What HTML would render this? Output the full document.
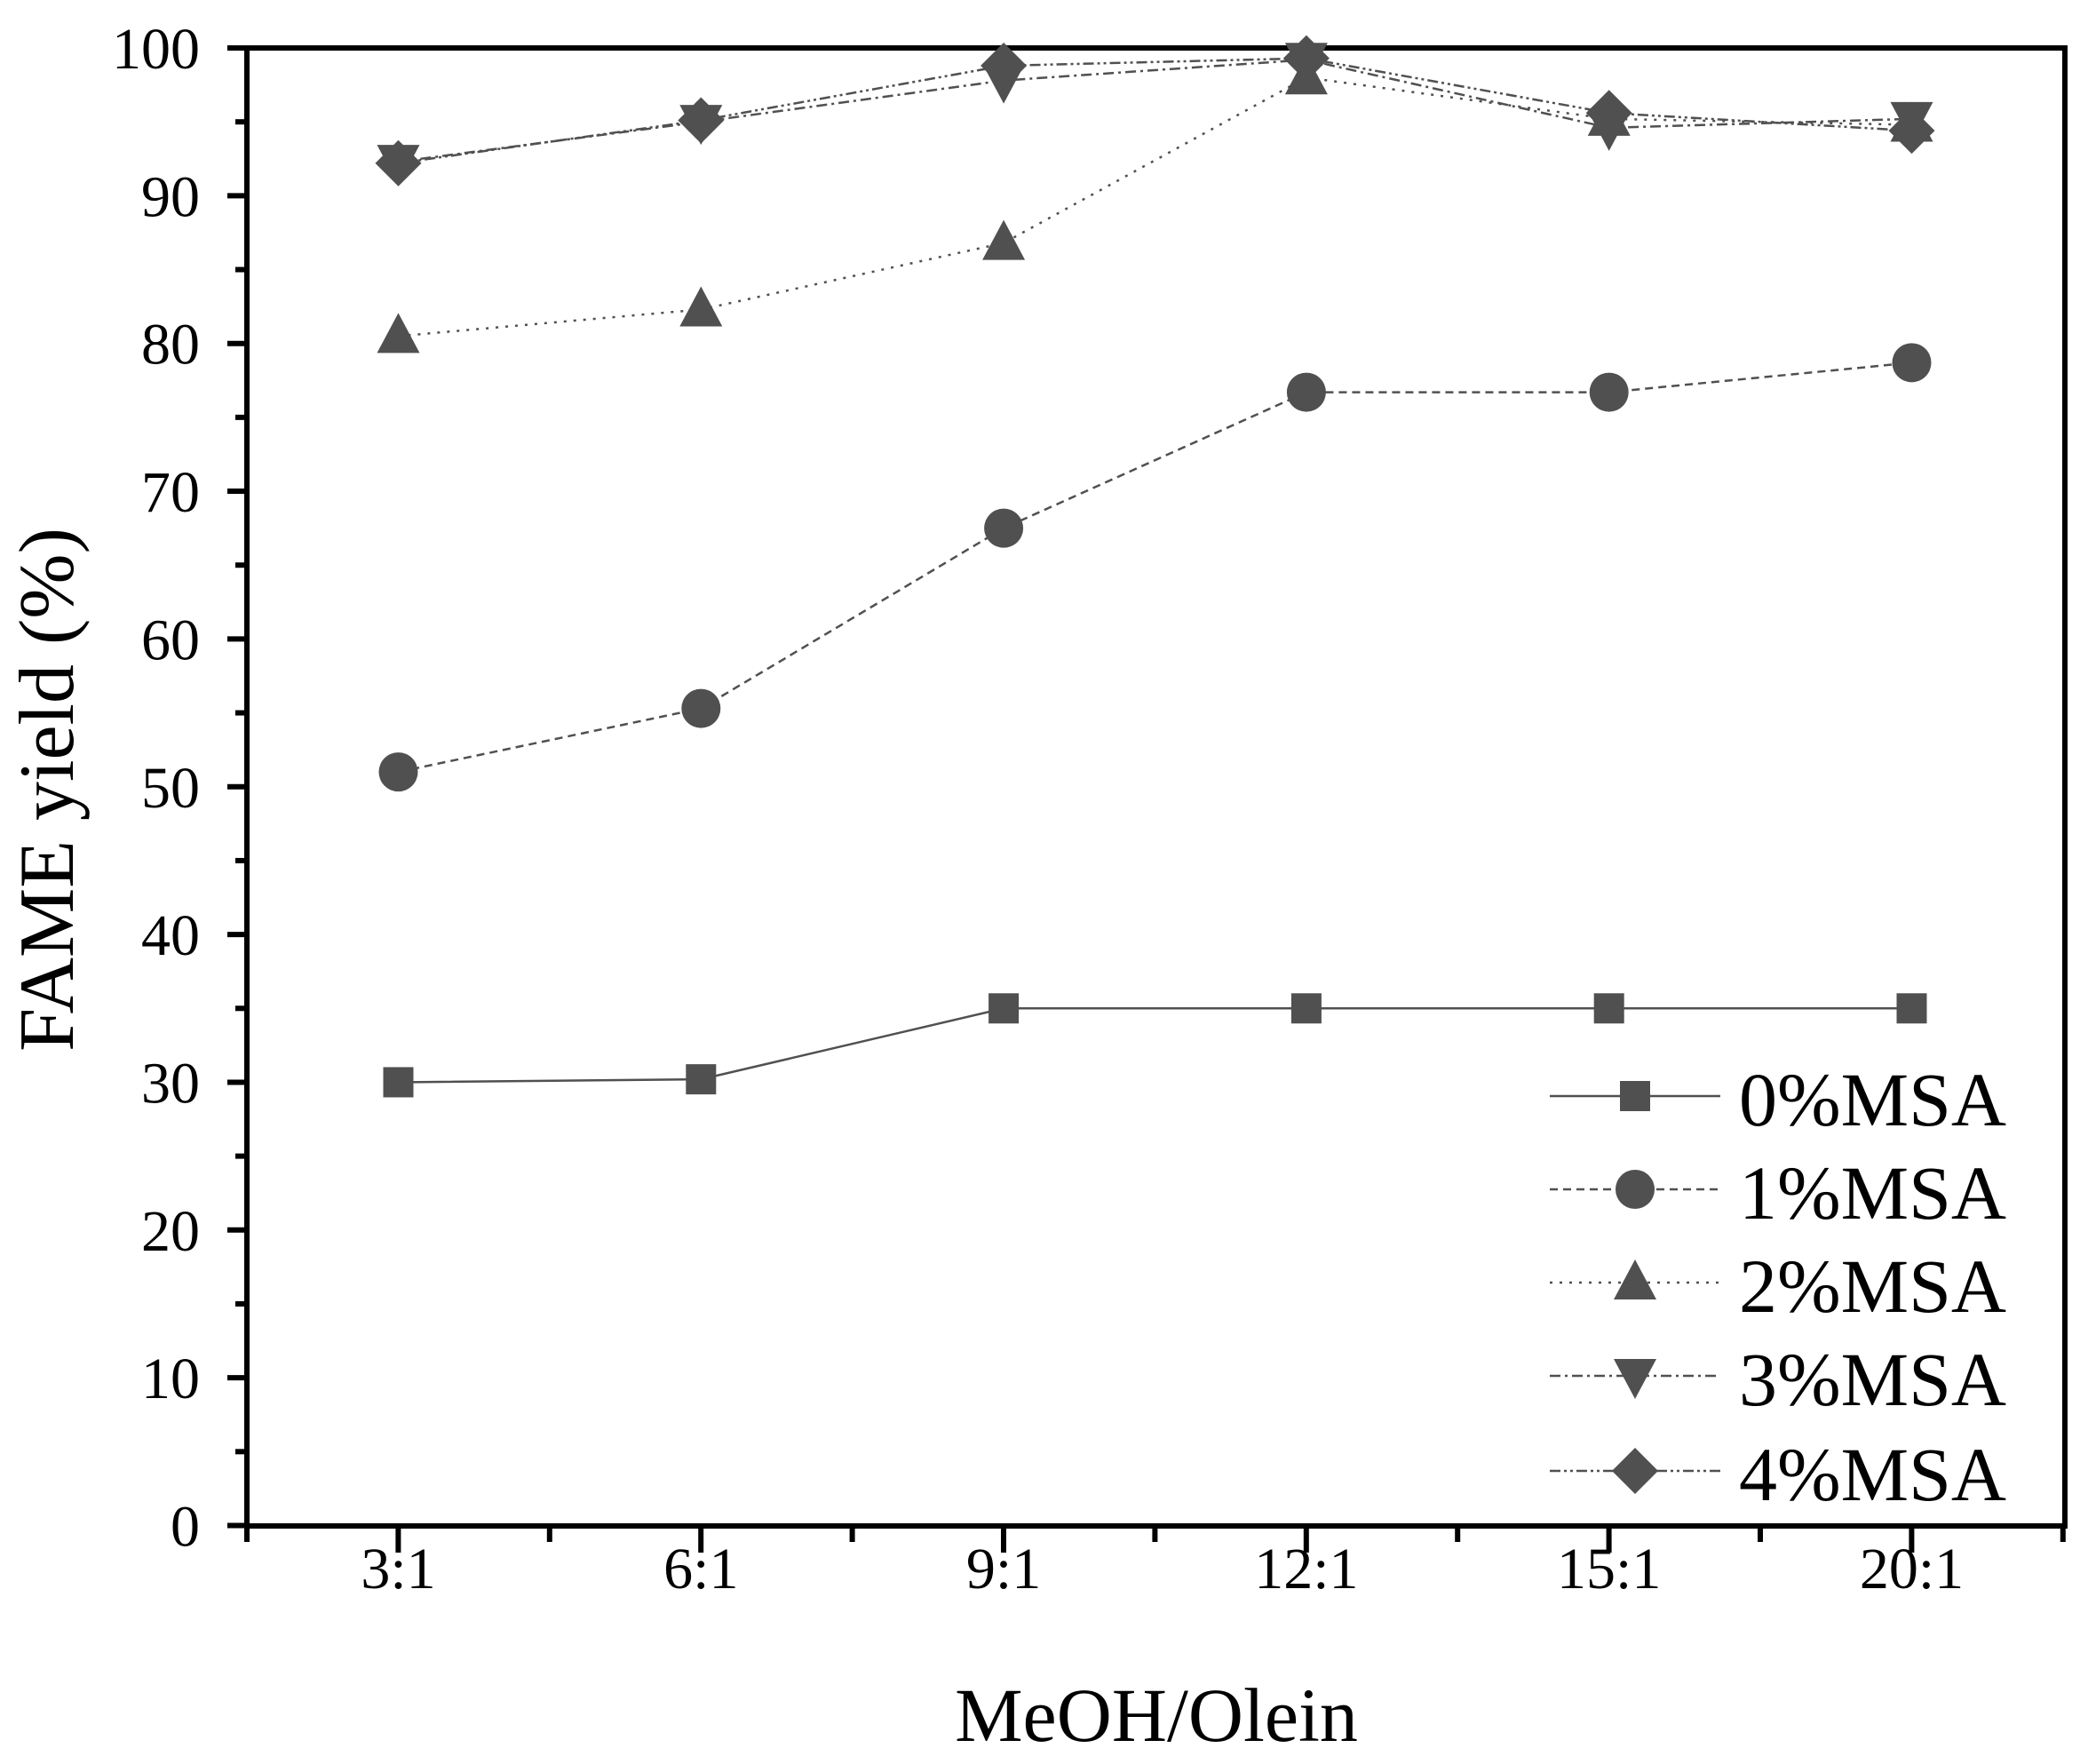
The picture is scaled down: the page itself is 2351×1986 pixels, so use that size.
<!DOCTYPE html>
<html><head><style>body{margin:0;background:#fff}svg{display:block}text{font-family:"Liberation Serif",serif;fill:#000}</style></head>
<body>
<svg width="2351" height="1986" viewBox="0 0 2351 1986" xmlns="http://www.w3.org/2000/svg">
<g stroke="#000" stroke-width="6" fill="none">
<rect x="278" y="54" width="2047" height="1664"/>
</g>
<g stroke="#000" stroke-width="6" id="ticks"></g>
<g font-size="66" text-anchor="end" id="ylab"></g>
<g font-size="66" text-anchor="middle" id="xlab"></g>
<text x="1302" y="1960" font-size="86" text-anchor="middle">MeOH/Olein</text>
<text transform="translate(82,889) rotate(-90)" font-size="88" text-anchor="middle">FAME yield (%)</text>
<g id="series"></g>
<g id="legend"></g>
</svg>
<script>
const NS="http://www.w3.org/2000/svg";
function el(p,t,a,txt){const e=document.createElementNS(NS,t);for(const k in a)e.setAttribute(k,a[k]);if(txt!==undefined)e.textContent=txt;document.getElementById(p).appendChild(e);return e;}
const X=i=>448.5+340.8*i, Y=v=>1717.5-16.635*v;
for(let v=0;v<=100;v+=5){const y=Y(v);const maj=v%10==0;el('ticks','line',{x1:278-(maj?22:13),x2:278,y1:y,y2:y});if(maj)el('ylab','text',{x:225,y:y+23},String(v));}
const xl=["3:1","6:1","9:1","12:1","15:1","20:1"];
for(let k=0;k<=12;k++){const x=278+170.4*k;const maj=k%2==1;el('ticks','line',{x1:x,x2:x,y1:1718,y2:1718+(maj?30:18)});}
xl.forEach((s,i)=>el('xlab','text',{x:X(i),y:1788},s));
const data=[[30,30.2,35,35,35,35],[51,55.3,67.5,76.7,76.7,78.7],[80.5,82.3,86.8,98,95.2,94.8],[92.3,95,97.8,99.2,94.6,95.2],[92.2,95.1,98.8,99.3,95.6,94.4]];
const dash=["", "9,6","3,8","12,5,3,5","12,4,3,4,3,4"];
const C="#505050";
function marker(g,k,x,y){
 if(k==0)el(g,'rect',{x:x-17,y:y-17,width:34,height:34,fill:C});
 else if(k==1)el(g,'circle',{cx:x,cy:y,r:22,fill:C});
 else if(k==2)el(g,'polygon',{points:`${x},${y-26} ${x+24},${y+19} ${x-24},${y+19}`,fill:C});
 else if(k==3)el(g,'polygon',{points:`${x},${y+26} ${x+24},${y-19} ${x-24},${y-19}`,fill:C});
 else el(g,'polygon',{points:`${x},${y-26} ${x+26},${y} ${x},${y+26} ${x-26},${y}`,fill:C});
}
data.forEach((d,k)=>{el('series','polyline',{points:d.map((v,i)=>X(i)+","+Y(v)).join(" "),fill:"none",stroke:C,"stroke-width":2.5,"stroke-dasharray":dash[k]});});
data.forEach((d,k)=>d.forEach((v,i)=>marker('series',k,X(i),Y(v))));
const names=["0%MSA","1%MSA","2%MSA","3%MSA","4%MSA"];
const ly=[1234,1339,1444,1549,1656];
names.forEach((n,k)=>{const y=ly[k];el('legend','line',{x1:1745,x2:1937,y1:y,y2:y,stroke:C,"stroke-width":2.5,"stroke-dasharray":dash[k]});marker('legend',k,1841,y);el('legend','text',{x:1958,y:y+33,"font-size":86},n);});
</script>
</body></html>
